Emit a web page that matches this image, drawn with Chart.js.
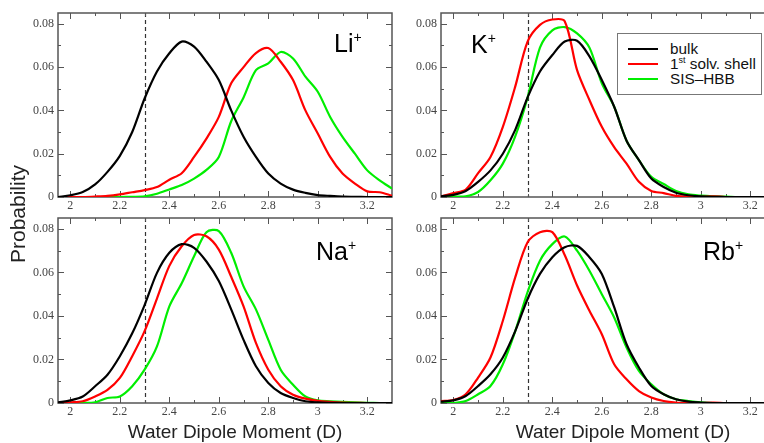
<!DOCTYPE html>
<html>
<head>
<meta charset="utf-8">
<script src="https://cdn.jsdelivr.net/npm/chart.js@4.4.1/dist/chart.umd.min.js"></script>
<style>
  html, body { margin: 0; padding: 0; background: #fff; }
  body { position: relative; width: 764px; height: 443px; overflow: hidden; font-family: "Liberation Sans", Arial, sans-serif; }
  canvas { position: absolute; }
  .ion { position: absolute; font-size: 25px; line-height: 25px; color: #000; white-space: nowrap; }
  .ion sup { font-size: 14px; line-height: 0; vertical-align: 10px; }
  .xtitle { position: absolute; font-size: 19px; line-height: 19px; color: #222; white-space: nowrap; transform: translateX(-50%); }
  .ytitle { position: absolute; font-size: 21px; line-height: 22px; width: 140px; text-align: center; color: #222; transform: rotate(-90deg); }
  #legend { position: absolute; left: 617px; top: 33px; width: 143px; height: 60px; border: 1px solid #777; background: #fff; }
  .lgline { position: absolute; left: 10px; width: 30px; height: 2px; }
  .lgtext { position: absolute; left: 52px; font-size: 15.3px; line-height: 16px; color: #111; white-space: nowrap; }
  .lgtext sup { font-size: 9px; line-height: 0; vertical-align: 6px; }
</style>
</head>
<body>
<canvas id="cLi" width="400" height="215" style="left:0px;top:0px"></canvas>
<canvas id="cK" width="400" height="215" style="left:390px;top:0px"></canvas>
<canvas id="cNa" width="400" height="216" style="left:0px;top:205px"></canvas>
<canvas id="cRb" width="400" height="216" style="left:390px;top:205px"></canvas>

<div class="ion" style="left:334px;top:31px">Li<sup>+</sup></div>
<div class="ion" style="left:471px;top:32px">K<sup>+</sup></div>
<div class="ion" style="left:316px;top:239px">Na<sup>+</sup></div>
<div class="ion" style="left:703px;top:239px">Rb<sup>+</sup></div>

<div class="ytitle" style="left:-52px;top:203px">Probability</div>
<div class="xtitle" style="left:235px;top:422px">Water Dipole Moment (D)</div>
<div class="xtitle" style="left:623px;top:422px">Water Dipole Moment (D)</div>

<div id="legend">
  <div class="lgline" id="lg0" style="top:14px"></div>
  <div class="lgtext" style="top:7px">bulk</div>
  <div class="lgline" id="lg1" style="top:29px"></div>
  <div class="lgtext" style="top:22px">1<sup>st</sup> solv. shell</div>
  <div class="lgline" id="lg2" style="top:44px"></div>
  <div class="lgtext" style="top:37px">SIS&ndash;HBB</div>
</div>

<script>
// ---- data ----
const xValues = [1.95, 2.0, 2.05, 2.1, 2.15, 2.2, 2.25, 2.3, 2.35, 2.4, 2.45, 2.5, 2.55, 2.6,
                 2.65, 2.7, 2.75, 2.8, 2.85, 2.9, 2.95, 3.0, 3.05, 3.1, 3.15, 3.2, 3.25, 3.3];

const seriesNames = ['bulk', '1st solv. shell', 'SIS\u2013HBB'];
const seriesColors = ['#000000', '#ff0000', '#00ee00'];

const liBulk  = [0, 0.0008, 0.0023, 0.0058, 0.0116, 0.019, 0.030, 0.0455, 0.058, 0.0664, 0.0718, 0.0695, 0.0625, 0.054,
                 0.040, 0.0278, 0.0185, 0.0108, 0.0062, 0.0034, 0.0019, 0.0009, 0.0005, 0.0002, 0.0001, 0, 0, 0];
const liShell = [0, 0, 0, 0.0002, 0.0005, 0.0012, 0.0022, 0.0032, 0.0046, 0.008, 0.011, 0.0185, 0.027, 0.037,
                 0.0525, 0.060, 0.0665, 0.0688, 0.0625, 0.054, 0.040, 0.0293, 0.0185, 0.0108, 0.0062, 0.0026, 0.0022, 0.0006];
const liSis   = [0, 0, 0, 0, 0, 0, 0.0001, 0.0003, 0.0015, 0.0035, 0.0055, 0.0085, 0.0125, 0.0185,
                 0.035, 0.046, 0.0586, 0.0617, 0.067, 0.064, 0.0556, 0.0486, 0.037, 0.0278, 0.020, 0.0123, 0.0077, 0.0039];

const kBulk   = [0.0003, 0.001, 0.0028, 0.007, 0.0123, 0.020, 0.031, 0.046, 0.058, 0.0656, 0.0718, 0.0722, 0.065, 0.054,
                 0.0417, 0.026, 0.017, 0.0085, 0.0046, 0.002, 0.0008, 0.0003, 0.0001, 0, 0, 0, 0, 0];
const kShell  = [0.0003, 0.0018, 0.0034, 0.011, 0.0185, 0.0324, 0.051, 0.0718, 0.0795, 0.082, 0.0812, 0.0586, 0.0448, 0.0324,
                 0.023, 0.0154, 0.007, 0.0028, 0.0018, 0.0005, 0.0002, 0.0001, 0.0003, 0, 0, 0, 0, 0];
const kSis    = [0, 0.0002, 0.0003, 0.0023, 0.0077, 0.0154, 0.028, 0.046, 0.069, 0.077, 0.0785, 0.0756, 0.069, 0.0525,
                 0.0417, 0.026, 0.017, 0.0093, 0.006, 0.0028, 0.0012, 0.0006, 0.0003, 0.0002, 0, 0, 0, 0];

const naBulk  = [0.0003, 0.0012, 0.003, 0.0077, 0.013, 0.0215, 0.032, 0.045, 0.0598, 0.069, 0.073, 0.0713, 0.065, 0.056,
                 0.043, 0.029, 0.0169, 0.0092, 0.0046, 0.0023, 0.0008, 0.0003, 0.0001, 0, 0, 0, 0, 0];
const naShell = [0, 0.0003, 0.0008, 0.003, 0.006, 0.0115, 0.0215, 0.033, 0.048, 0.063, 0.072, 0.0772, 0.0766, 0.0705,
                 0.058, 0.0444, 0.0276, 0.0153, 0.0077, 0.0038, 0.002, 0.001, 0.0005, 0.0002, 0.0001, 0, 0, 0];
const naSis   = [0, 0, 0, 0.0003, 0.0023, 0.003, 0.0077, 0.0153, 0.026, 0.0444, 0.055, 0.0674, 0.0785, 0.079,
                 0.069, 0.0536, 0.043, 0.029, 0.0153, 0.0084, 0.003, 0.0012, 0.0008, 0.0005, 0.0003, 0.0001, 0, 0];

const rbBulk  = [0.0006, 0.0012, 0.0032, 0.0078, 0.0132, 0.0209, 0.033, 0.0478, 0.0593, 0.067, 0.0716, 0.0722, 0.067, 0.0593,
                 0.044, 0.027, 0.0163, 0.0078, 0.004, 0.0017, 0.0006, 0.0002, 0, 0, 0, 0, 0, 0];
const rbShell = [0.0009, 0.0014, 0.004, 0.0117, 0.0209, 0.0378, 0.0577, 0.0739, 0.0785, 0.0785, 0.068, 0.054, 0.0424, 0.0316,
                 0.0178, 0.0109, 0.0055, 0.0025, 0.0009, 0.0002, 0, 0, 0.0002, 0, 0, 0, 0, 0];
const rbSis   = [0, 0, 0.0009, 0.004, 0.0078, 0.0178, 0.033, 0.051, 0.0654, 0.073, 0.0765, 0.070, 0.0608, 0.050,
                 0.0393, 0.0255, 0.0147, 0.0086, 0.004, 0.0017, 0.0009, 0.0003, 0, 0, 0, 0, 0, 0];

const xTicks = [2, 2.2, 2.4, 2.6, 2.8, 3, 3.2];
const xTickLabels = ['2', '2.2', '2.4', '2.6', '2.8', '3', '3.2'];
const xMinorTicks = [2.1, 2.3, 2.5, 2.7, 2.9, 3.1];
const yTicks = [0, 0.02, 0.04, 0.06, 0.08];
const yTickLabels = ['0', '0.02', '0.04', '0.06', '0.08'];
const yMinorTicks = [0.01, 0.03, 0.05, 0.07];
const refLineX = 2.3;
const xMin = 1.95, xMax = 3.3, yMin = 0, yMax = 0.085;

// ---- legend colours ----
seriesColors.forEach((c, i) => { document.getElementById('lg' + i).style.background = c; });

// ---- frame / inward ticks / dashed reference line ----
const framePlugin = {
  id: 'frame',
  beforeDatasetsDraw(chart) {
    const { ctx, chartArea: a, scales: { x, y } } = chart;
    ctx.save();
    const rx = Math.round(x.getPixelForValue(refLineX)) + 0.5;
    ctx.strokeStyle = '#333';
    ctx.lineWidth = 1.2;
    ctx.setLineDash([4, 3]);
    ctx.beginPath();
    ctx.moveTo(rx, a.top);
    ctx.lineTo(rx, a.bottom);
    ctx.stroke();
    ctx.setLineDash([]);
    ctx.strokeStyle = '#555';
    ctx.lineWidth = 1.5;
    ctx.strokeRect(a.left, a.top, a.right - a.left, a.bottom - a.top);
    ctx.lineWidth = 1;
    ctx.beginPath();
    const vt = (v, len) => {
      const px = Math.round(x.getPixelForValue(v)) + 0.5;
      ctx.moveTo(px, a.bottom); ctx.lineTo(px, a.bottom - len);
      ctx.moveTo(px, a.top); ctx.lineTo(px, a.top + len);
    };
    const ht = (v, len) => {
      const py = Math.round(y.getPixelForValue(v)) + 0.5;
      ctx.moveTo(a.left, py); ctx.lineTo(a.left + len, py);
      ctx.moveTo(a.right, py); ctx.lineTo(a.right - len, py);
    };
    xTicks.forEach(v => vt(v, 6));
    xMinorTicks.forEach(v => vt(v, 3));
    yTicks.forEach(v => ht(v, 6));
    yMinorTicks.forEach(v => ht(v, 3));
    ctx.stroke();
    ctx.restore();
  }
};

function makePanel(id, series, yAxisWidth, rightPad) {
  const datasets = series.map((arr, i) => ({
    label: seriesNames[i],
    data: xValues.map((xv, j) => ({ x: xv, y: arr[j] })),
    borderColor: seriesColors[i],
    borderWidth: 2.2,
    pointRadius: 0,
    tension: 0.3,
    fill: false
  }));
  const tickFont = { family: '"Liberation Serif", "DejaVu Serif", serif', size: 12 };
  return new Chart(document.getElementById(id), {
    type: 'line',
    data: { datasets },
    plugins: [framePlugin],
    options: {
      responsive: false,
      animation: false,
      devicePixelRatio: 1,
      layout: { padding: { left: 0, top: 13, right: rightPad, bottom: 0 } },
      plugins: { legend: { display: false }, tooltip: { enabled: false } },
      scales: {
        x: {
          type: 'linear', min: xMin, max: xMax,
          afterBuildTicks: s => { s.ticks = xTicks.map(v => ({ value: v })); },
          afterFit: s => { s.height = 18; },
          ticks: { callback: (v, i) => xTickLabels[i], font: tickFont, color: '#444', padding: 2, maxRotation: 0, autoSkip: false },
          grid: { display: false, drawTicks: false },
          border: { display: false }
        },
        y: {
          type: 'linear', min: yMin, max: yMax,
          afterBuildTicks: s => { s.ticks = yTicks.map(v => ({ value: v })); },
          afterFit: s => { s.width = yAxisWidth; },
          ticks: { callback: (v, i) => yTickLabels[i], font: tickFont, color: '#444', padding: 4 },
          grid: { display: false, drawTicks: false },
          border: { display: false }
        }
      }
    }
  });
}

makePanel('cLi', [liBulk, liShell, liSis], 58, 8);
makePanel('cK',  [kBulk, kShell, kSis], 51, 15);
makePanel('cNa', [naBulk, naShell, naSis], 58, 8);
makePanel('cRb', [rbBulk, rbShell, rbSis], 51, 15);
</script>
</body>
</html>
